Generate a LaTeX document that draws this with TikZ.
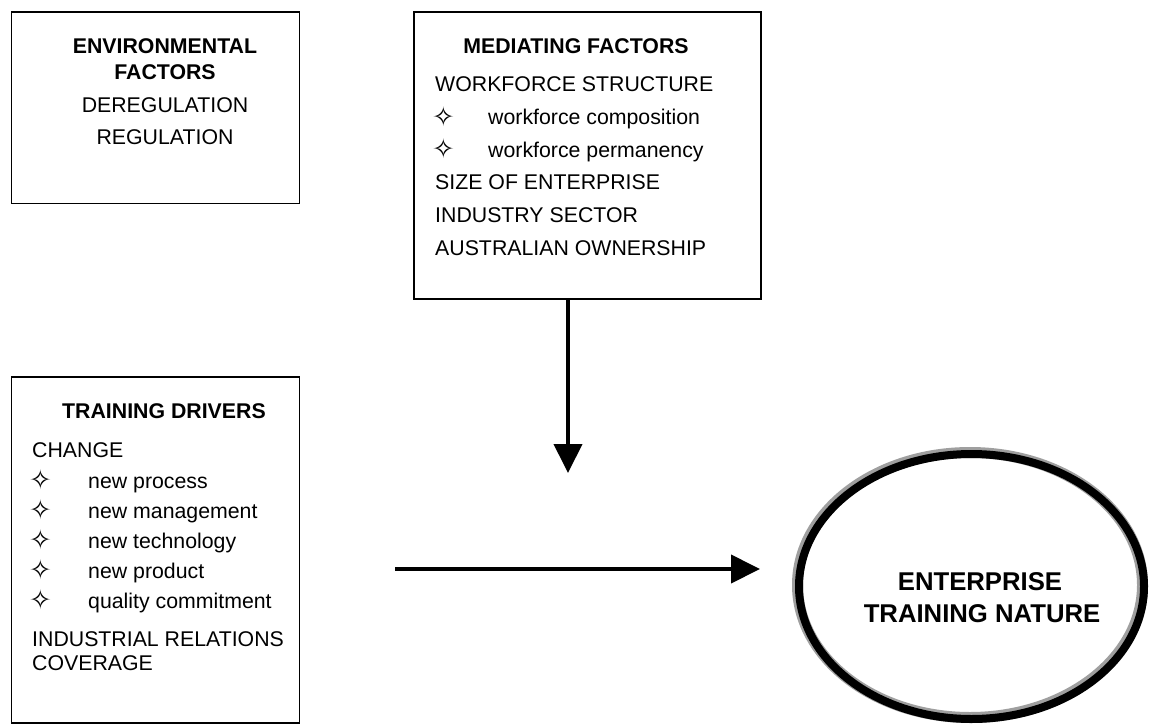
\documentclass[tikz,border=0pt]{standalone}
\usepackage{fontspec}
\setmainfont{Liberation Sans}
\newfontfamily\symfont{DejaVu Sans}
\usetikzlibrary{arrows.meta,shapes.geometric}
\begin{document}
\begin{tikzpicture}[x=1pt,y=-1pt,
 box/.style={draw, line width=1.6pt, inner sep=0pt},
 txt/.style={anchor=base west, inner sep=0pt, font=\fontsize{21.3}{25}\selectfont},
 ctxt/.style={anchor=base, inner sep=0pt, font=\fontsize{21.3}{25}\selectfont},
 ttl/.style={anchor=base, inner sep=0pt, font=\fontsize{21.3}{25}\selectfont\bfseries},
 big/.style={anchor=base, inner sep=0pt, font=\fontsize{25.7}{30}\selectfont\bfseries},
 bul/.style={anchor=center, inner sep=0pt, font=\symfont\fontsize{27}{30}\selectfont},
 arr/.style={line width=4pt, -{Triangle[length=29pt,width=28pt]}}]
\useasboundingbox (0,0) rectangle (1151,725);

% boxes
\node[box, minimum width=288pt, minimum height=191.5pt] (env) at (155.5,107.75) {};
\node[box, minimum width=347pt, minimum height=287pt] (med) at (587.5,155.5) {};
\node[box, minimum width=288pt, minimum height=346pt] (trn) at (155.5,550) {};

% environmental factors
\node[ttl] (e1) at (165,53) {ENVIRONMENTAL};
\node[ttl] (e2) at (165,80) {FACTORS};
\node[ctxt] (e3) at (165,112) {DEREGULATION};
\node[ctxt] (e4) at (165,144) {REGULATION};

% mediating factors
\node[ttl] (m0) at (576,53) {MEDIATING FACTORS};
\node[txt] (m1) at (435,92) {WORKFORCE STRUCTURE};
\node[bul] (mb1) at (443.5,116.5) {✧};
\node[txt] (m2) at (488,124.5) {workforce composition};
\node[bul] (mb2) at (443.5,149) {✧};
\node[txt] (m3) at (488,157) {workforce permanency};
\node[txt] (m4) at (435,189) {SIZE OF ENTERPRISE};
\node[txt] (m5) at (435,222) {INDUSTRY SECTOR};
\node[txt] (m6) at (435,255) {AUSTRALIAN OWNERSHIP};

% training drivers
\node[ttl] (t0) at (164,418) {TRAINING DRIVERS};
\node[txt] (t1) at (32,457) {CHANGE};
\node[bul] (tb1) at (40.5,480) {✧};
\node[txt] (t2) at (88,488) {new process};
\node[bul] (tb2) at (40.5,510) {✧};
\node[txt] (t3) at (88,518) {new management};
\node[bul] (tb3) at (40.5,540) {✧};
\node[txt] (t4) at (88,548) {new technology};
\node[bul] (tb4) at (40.5,570) {✧};
\node[txt] (t5) at (88,578) {new product};
\node[bul] (tb5) at (40.5,600) {✧};
\node[txt] (t6) at (88,608) {quality commitment};
\node[txt] (t7) at (32,646) {INDUSTRIAL RELATIONS};
\node[txt] (t8) at (32,670) {COVERAGE};

% outcome ellipse
\draw[line width=11pt, gray!75] (970,585) ellipse [x radius=172.5, y radius=132.5];
\node[draw, ellipse, line width=8pt, inner sep=0pt, minimum width=345pt, minimum height=265pt] (etn) at (971.5,586.5) {};
\node[big] (o1) at (980,590) {ENTERPRISE};
\node[big] (o2) at (982,622) {TRAINING NATURE};

% connectors
\coordinate (vt) at (568,473);
\draw[arr] (med.south -| vt) -- (vt);
\coordinate (hs) at (395,569);
\coordinate (he) at (760,569);
\draw[arr] (hs) -- (he);
\end{tikzpicture}
\end{document}
